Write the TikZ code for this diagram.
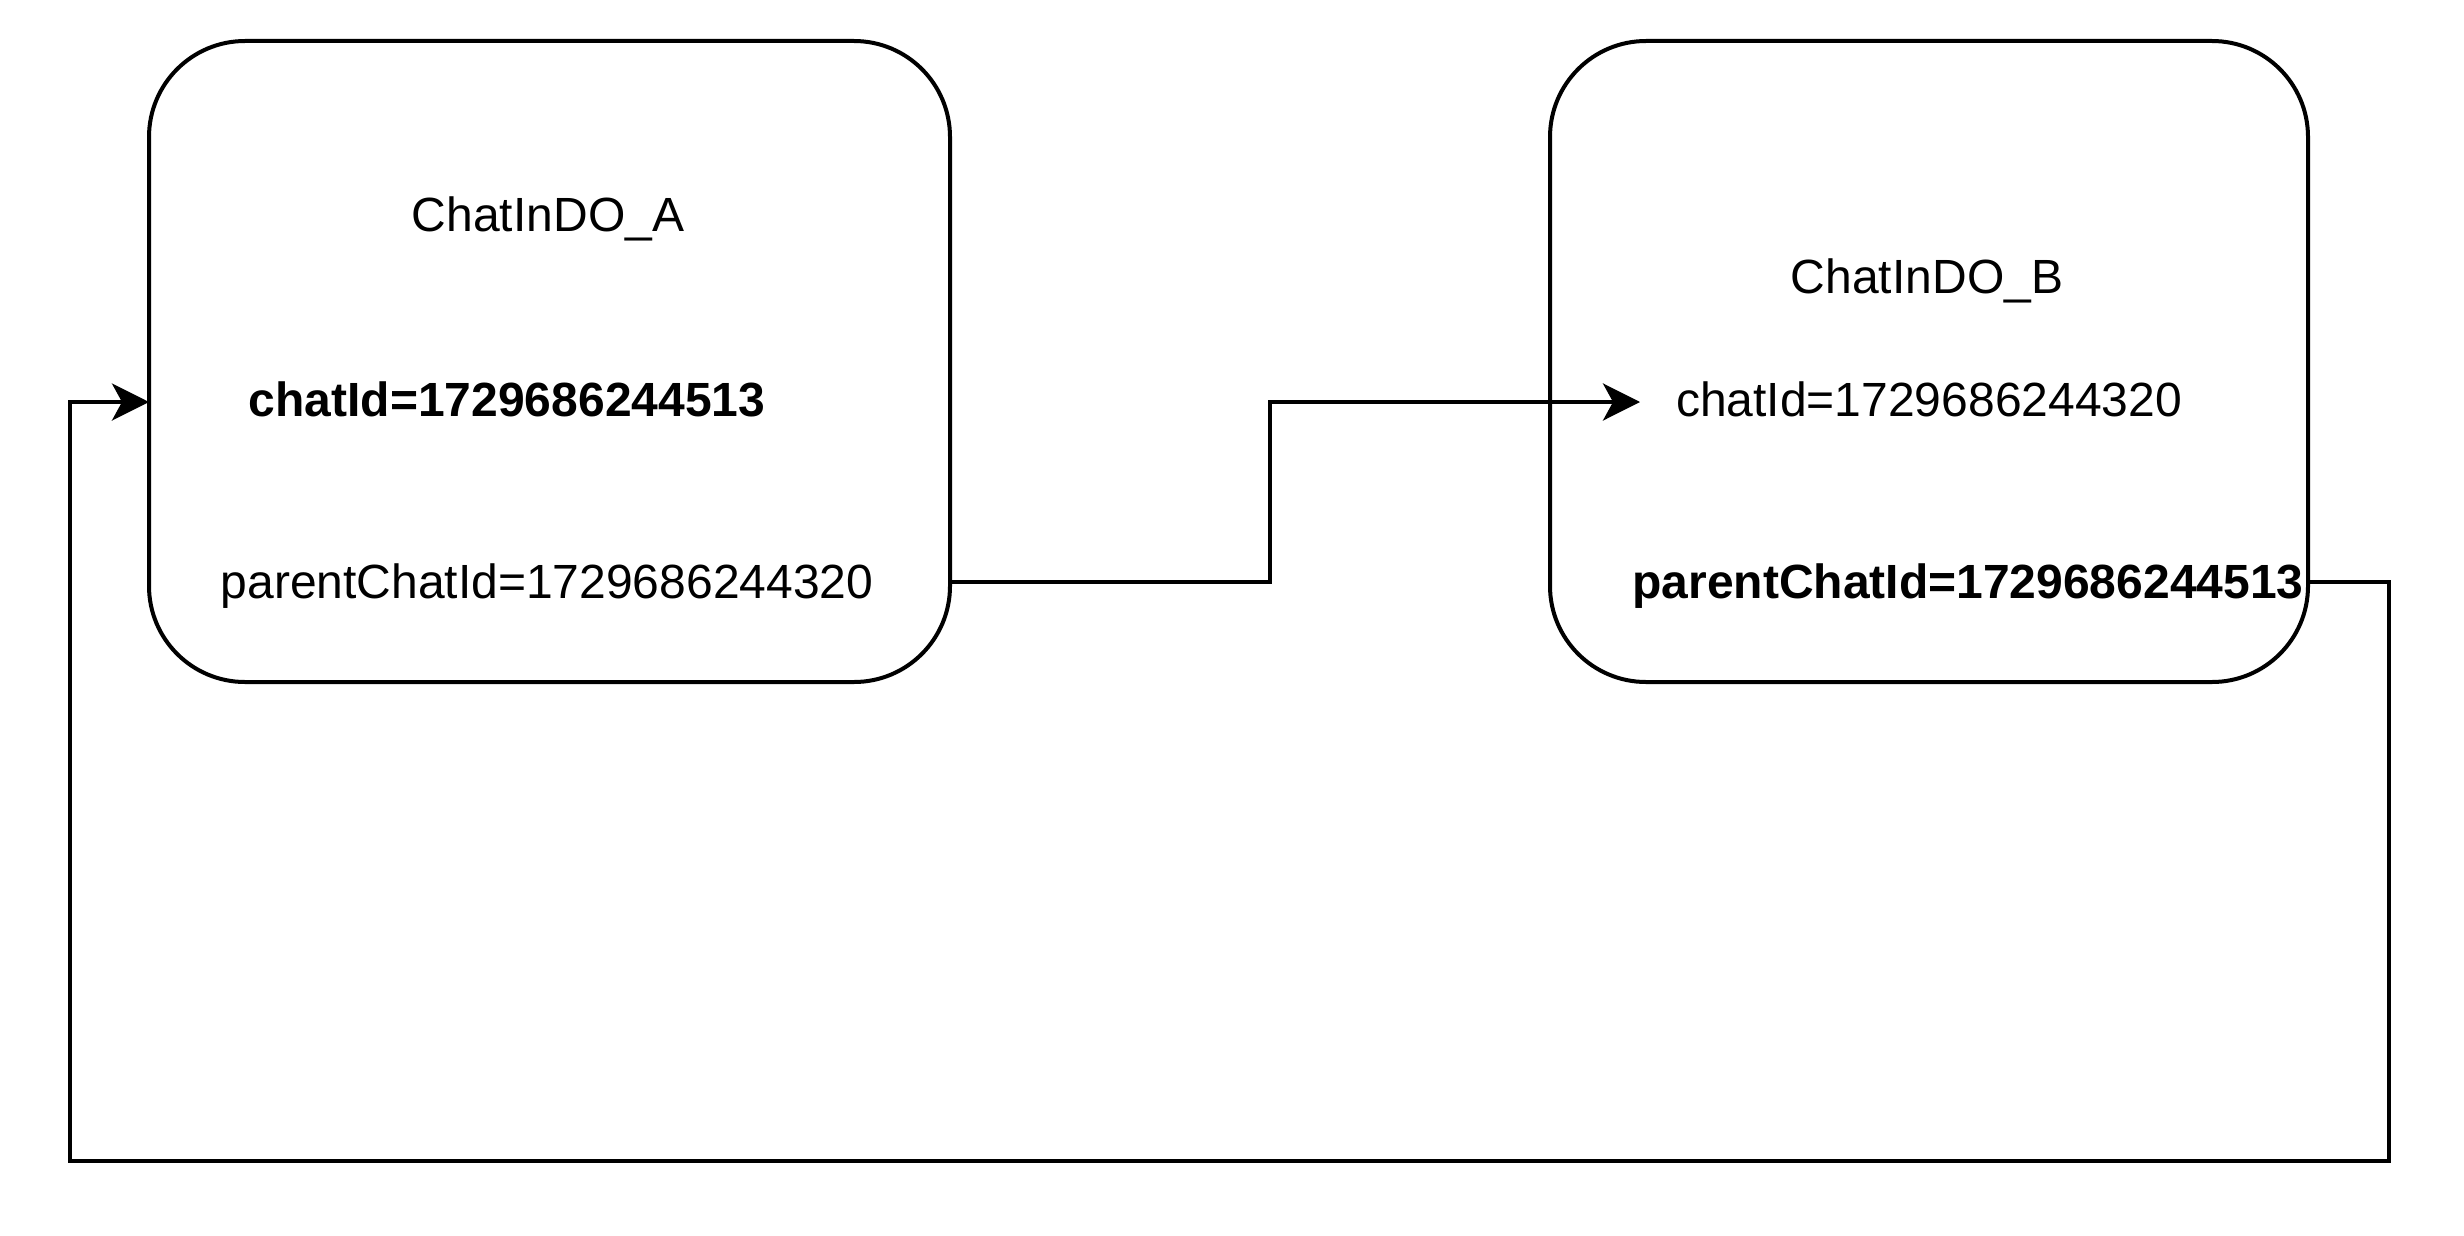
\documentclass[tikz,border=0pt]{standalone}
\usepackage{fontspec}
\setmainfont{Liberation Sans}
\usetikzlibrary{arrows.meta}
\begin{document}
\begin{tikzpicture}[x=1pt,y=-1pt,
  box/.style={draw,line width=4pt,rounded corners=96pt,inner sep=0pt,outer sep=0pt},
  lbl/.style={inner sep=0pt,outer sep=0pt,text height=0.716em,text depth=0pt,font=\fontsize{48}{58}\selectfont},
  blbl/.style={lbl,font=\fontsize{48}{58}\selectfont\bfseries},
  link/.style={line width=4pt,-{Stealth[length=37pt,width=37pt,inset=10pt]}}]
\useasboundingbox (0,0) rectangle (2464,1236);
\node[box,minimum width=801pt,minimum height=641pt] (A) at (549.5,361.5) {};
\node[box,minimum width=758pt,minimum height=641pt] (B) at (1929,361.5) {};
\node[lbl] (Atitle) at (548,228) {ChatInDO\_A};
\node[blbl] (Achat) at (507,413) {chatId=1729686244513};
\node[lbl] (Apar) at (547,595) {parentChatId=1729686244320};
\node[lbl] (Btitle) at (1927,290) {ChatInDO\_B};
\node[lbl] (Bchat) at (1929,413) {chatId=1729686244320};
\node[blbl] (Bpar) at (1968,595) {parentChatId=1729686244513};
\coordinate (tipB) at (1640,402);
\coordinate (tipA) at (149,402);
\coordinate (c1) at (1270,582);
\coordinate (c2) at (2389,582);
\coordinate (c3) at (2389,1161);
\coordinate (c4) at (70,1161);
\coordinate (c5) at (70,402);
\draw[link] (A.east |- c1) -- (c1) |- (tipB);
\draw[link] (B.east |- c2) -- (c2) -- (c3) -- (c4) -- (c5) -- (tipA);
\end{tikzpicture}
\end{document}
